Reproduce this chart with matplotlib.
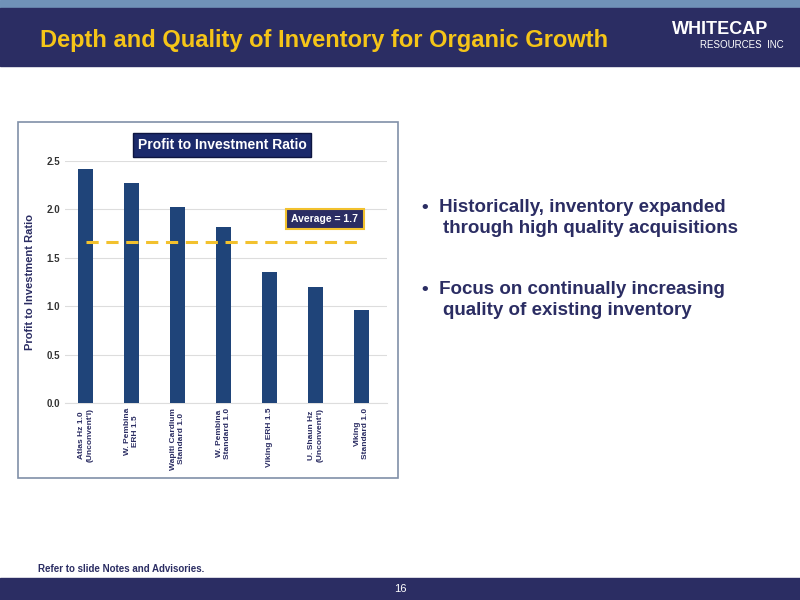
import matplotlib.pyplot as plt
from matplotlib.patches import Rectangle

categories = ["Atlas Hz 1.0\n(Unconvent'l)", "W. Pembina\nERH 1.5", "Wapiti Cardium\nStandard 1.0",
              "W. Pembina\nStandard 1.0", "Viking ERH 1.5", "U. Shaun Hz\n(Unconvent'l)", "Viking\nStandard 1.0"]
ratios = [2.42, 2.27, 2.02, 1.82, 1.35, 1.20, 0.96]
average = 1.66
yticks = [0.0, 0.5, 1.0, 1.5, 2.0, 2.5]

navy = '#2b2d63'
bar_col = '#1f4479'
gold = '#f2c12e'
plt.rcParams['font.family'] = ['Liberation Sans', 'DejaVu Sans']

fig = plt.figure(figsize=(8, 6), dpi=100)
W, H = 800, 600

def px(x, y, w, h):
    return (x / W, 1 - (y + h) / H, w / W, h / H)

# header and footer bands
fig.patches.append(Rectangle((0, 1 - 8 / H), 1, 8 / H, transform=fig.transFigure, color='#7092b8'))
fig.patches.append(Rectangle((0, 1 - 66 / H), 1, 58 / H, transform=fig.transFigure, color=navy))
fig.patches.append(Rectangle((0, 0), 1, 22 / H, transform=fig.transFigure, color=navy))
fig.text(40 / W, 1 - 40 / H, "Depth and Quality of Inventory for Organic Growth", color='#f5c518',
         fontsize=17, fontweight='bold', va='center')
fig.text(672 / W, 1 - 30 / H, "WHITECAP", color='white', fontsize=13, fontweight='bold', va='center')
fig.text(700 / W, 1 - 45 / H, "RESOURCES  INC", color='white', fontsize=7, va='center')
fig.text(0.5, 11 / H, "16", color='white', fontsize=8, ha='center', va='center')
fig.text(38 / W, 1 - 569 / H, "Refer to slide Notes and Advisories.", color=navy, fontsize=7, fontweight='bold',
         va='center')

# chart frame
fig.patches.append(Rectangle((18 / W, 1 - 478 / H), 380 / W, 356 / H, transform=fig.transFigure,
                             facecolor='white', edgecolor='#8090a8', lw=1.2, zorder=-1))

ax = fig.add_axes(px(65, 161, 322, 242))
ax.set_zorder(2)
ax.patch.set_visible(False)
x = range(len(categories))
ax.bar(x, ratios, width=0.33, color=bar_col, zorder=3)
ax.plot([0, 6], [average, average], ls=(0, (4, 2.5)), color=gold, lw=2.2, zorder=4)
ax.set_ylim(0, 2.5)
ax.set_xlim(-0.45, 6.55)
ax.set_yticks(yticks)
ax.set_yticklabels([f"{v:.1f}" for v in yticks], fontsize=7, fontweight='bold', color='#333333')
ax.set_xticks(list(x))
ax.set_xticklabels(categories, rotation=90, fontsize=6, fontweight='bold', color=navy, va='top')
ax.tick_params(length=0)
ax.grid(axis='y', color='#dddddd', lw=0.8, zorder=0)
for s in ax.spines.values():
    s.set_visible(False)
ax.spines['bottom'].set_visible(True)
ax.spines['bottom'].set_color('#dddddd')
ax.set_ylabel("Profit to Investment Ratio", fontsize=8, fontweight='bold', color=navy, labelpad=8)
ax.text(5.2, 1.9, "Average = 1.7", fontsize=7.5, color='white', fontweight='bold', ha='center', va='center',
        bbox=dict(boxstyle='square,pad=0.5', fc=navy, ec=gold, lw=1.5), zorder=5)

fig.text(222 / W, 1 - 145 / H, "Profit to Investment Ratio", fontsize=10, fontweight='bold', color='white',
         ha='center', va='center', bbox=dict(boxstyle='square,pad=0.35', fc='#1b2a6b', ec='#0d1540'))

# bullets
fig.text(422 / W, 1 - 218 / H, "•  Historically, inventory expanded\n    through high quality acquisitions",
         fontsize=13.5, fontweight='bold', color=navy, va='center', linespacing=1.35)
fig.text(422 / W, 1 - 300 / H, "•  Focus on continually increasing\n    quality of existing inventory",
         fontsize=13.5, fontweight='bold', color=navy, va='center', linespacing=1.35)

fig.savefig('out.png', dpi=100)
